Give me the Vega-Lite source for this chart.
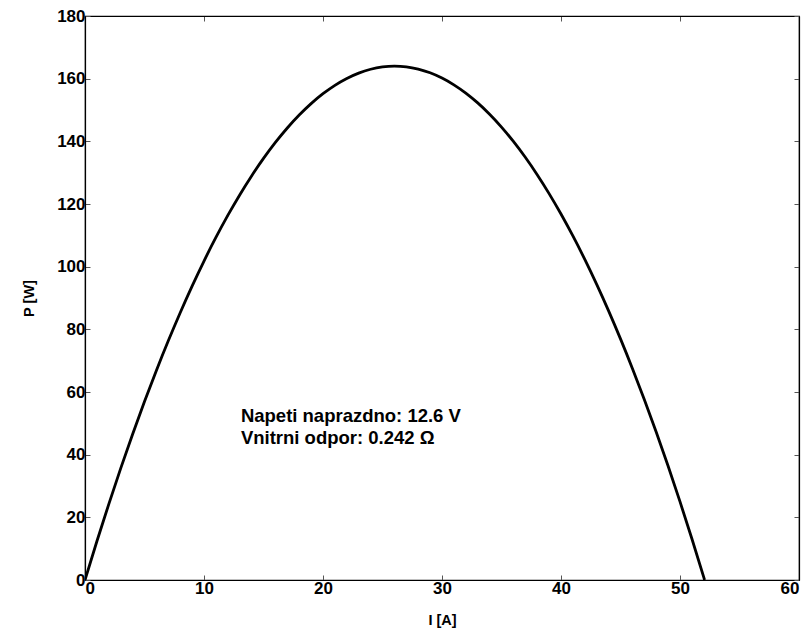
{
  "$schema": "https://vega.github.io/schema/vega-lite/v6.json",
  "width": 714,
  "height": 564,
  "autosize": "none",
  "padding": {"left": 85, "top": 16, "right": 9, "bottom": 54},
  "background": "white",
  "config": {
    "view": {"stroke": "black", "strokeWidth": 1.2},
    "font": "Liberation Sans",
    "axis": {
      "labelFont": "Liberation Sans", "labelFontWeight": "bold", "labelFontSize": 17, "labelColor": "black",
      "titleFont": "Liberation Sans", "titleFontWeight": "bold", "titleFontSize": 14.5, "titleColor": "black",
      "domainColor": "black", "domainWidth": 1.2, "tickColor": "#555", "tickSize": -5, "grid": false, "labelPadding": 5
    }
  },
  "datasets": {
    "curve": [
      {"I": 0, "P": 0}, {"I": 1, "P": 12.358}, {"I": 2, "P": 24.232}, {"I": 3, "P": 35.622}, {"I": 4, "P": 46.528},
      {"I": 5, "P": 56.95}, {"I": 6, "P": 66.888}, {"I": 7, "P": 76.342}, {"I": 8, "P": 85.312}, {"I": 9, "P": 93.798},
      {"I": 10, "P": 101.8}, {"I": 11, "P": 109.318}, {"I": 12, "P": 116.352}, {"I": 13, "P": 122.902}, {"I": 14, "P": 128.968},
      {"I": 15, "P": 134.55}, {"I": 16, "P": 139.648}, {"I": 17, "P": 144.262}, {"I": 18, "P": 148.392}, {"I": 19, "P": 152.038},
      {"I": 20, "P": 155.2}, {"I": 21, "P": 157.878}, {"I": 22, "P": 160.072}, {"I": 23, "P": 161.782}, {"I": 24, "P": 163.008},
      {"I": 25, "P": 163.75}, {"I": 26, "P": 164.008}, {"I": 27, "P": 163.782}, {"I": 28, "P": 163.072}, {"I": 29, "P": 161.878},
      {"I": 30, "P": 160.2}, {"I": 31, "P": 158.038}, {"I": 32, "P": 155.392}, {"I": 33, "P": 152.262}, {"I": 34, "P": 148.648},
      {"I": 35, "P": 144.55}, {"I": 36, "P": 139.968}, {"I": 37, "P": 134.902}, {"I": 38, "P": 129.352}, {"I": 39, "P": 123.318},
      {"I": 40, "P": 116.8}, {"I": 41, "P": 109.798}, {"I": 42, "P": 102.312}, {"I": 43, "P": 94.342}, {"I": 44, "P": 85.888},
      {"I": 45, "P": 76.95}, {"I": 46, "P": 67.528}, {"I": 47, "P": 57.622}, {"I": 48, "P": 47.232}, {"I": 49, "P": 36.358},
      {"I": 50, "P": 25.0}, {"I": 51, "P": 13.158}, {"I": 52, "P": 0.832}, {"I": 52.066, "P": 0}
    ],
    "notes": [
      {"I": 13.1, "P": 52.5, "label": "Napeti naprazdno: 12.6 V"},
      {"I": 13.1, "P": 45.4, "label": "Vnitrni odpor: 0.242 Ω"}
    ]
  },
  "layer": [
    {
      "data": {"name": "curve"},
      "mark": {"type": "line", "color": "black", "strokeWidth": 2.8, "interpolate": "monotone", "clip": true},
      "encoding": {
        "x": {"field": "I", "type": "quantitative", "scale": {"domain": [0, 60], "nice": false},
              "axis": {"orient": "bottom", "values": [0, 10, 20, 30, 40, 50, 60], "title": "I [A]", "titlePadding": 17}},
        "y": {"field": "P", "type": "quantitative", "scale": {"domain": [0, 180], "nice": false},
              "axis": {"orient": "left", "values": [0, 20, 40, 60, 80, 100, 120, 140, 160, 180], "title": "P [W]", "titlePadding": 20}}
      }
    },
    {
      "data": {"name": "curve"},
      "mark": {"type": "line", "opacity": 0},
      "encoding": {
        "x": {"field": "I", "type": "quantitative", "scale": {"domain": [0, 60], "nice": false},
              "axis": {"orient": "top", "values": [0, 10, 20, 30, 40, 50, 60], "labels": false, "title": null}},
        "y": {"field": "P", "type": "quantitative", "scale": {"domain": [0, 180], "nice": false},
              "axis": {"orient": "right", "values": [0, 20, 40, 60, 80, 100, 120, 140, 160, 180], "labels": false, "title": null}}
      }
    },
    {
      "data": {"name": "notes"},
      "mark": {"type": "text", "align": "left", "baseline": "middle", "font": "Liberation Sans", "fontWeight": "bold", "fontSize": 18.5, "color": "black"},
      "encoding": {
        "x": {"field": "I", "type": "quantitative", "axis": null},
        "y": {"field": "P", "type": "quantitative", "axis": null},
        "text": {"field": "label"}
      }
    }
  ],
  "resolve": {"axis": {"x": "independent", "y": "independent"}}
}
